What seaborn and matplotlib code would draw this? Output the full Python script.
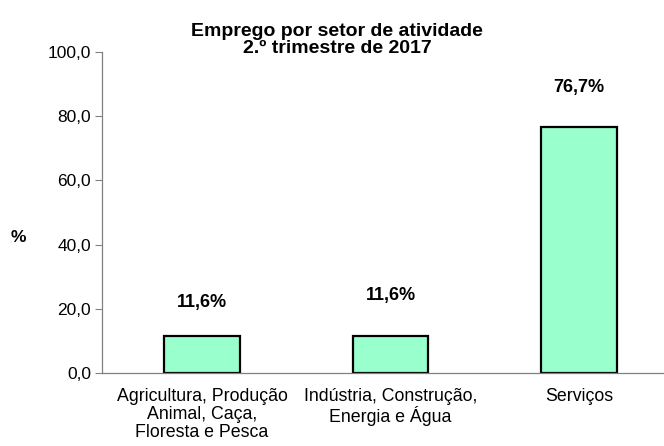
import matplotlib
matplotlib.use("Agg")
import matplotlib.pyplot as plt
import seaborn as sns
import pandas as pd
from matplotlib.ticker import FuncFormatter

# dados
setores = ["Agricultura, Produção\nAnimal, Caça,\nFloresta e Pesca",
           "Indústria, Construção,\nEnergia e Água",
           "Serviços"]
valores = [11.6, 11.6, 76.7]
rotulos = ["11,6%", "11,6%", "76,7%"]

df = pd.DataFrame({"setor": setores, "valor": valores})

sns.set_style("white")
plt.rcParams["font.family"] = ["Liberation Sans", "DejaVu Sans"]
plt.rcParams["text.color"] = "black"

fig = plt.figure(figsize=(6.64, 4.46), dpi=100)
ax = fig.add_axes([102 / 664, 1 - 373 / 446, 562 / 664, 321 / 446])

sns.barplot(data=df, x="setor", y="valor", color="#99FFCC", width=0.40,
            edgecolor="black", linewidth=1.6, saturation=1, ax=ax)

ax.set_ylim(0, 100)
ax.set_xlim(-0.53, 2.45)
ax.set_yticks([0, 20, 40, 60, 80, 100])
ax.yaxis.set_major_formatter(FuncFormatter(lambda v, p: f"{v:.1f}".replace(".", ",")))
ax.tick_params(axis="y", labelsize=12.5, length=5, width=0.8, color="#808080",
               labelcolor="black", left=True, pad=3)
ax.tick_params(axis="x", labelsize=12.8, length=0, pad=11, labelcolor="black")
for lbl in ax.get_xticklabels():
    lbl.set_linespacing(1.05)
ax.set_xlabel("")
ax.set_ylabel("%", fontsize=12.5, fontweight="bold", rotation=0, color="black")
ax.yaxis.set_label_coords(-0.148, 0.40)

for s in ["top", "right"]:
    ax.spines[s].set_visible(False)
for s in ["left", "bottom"]:
    ax.spines[s].set_color("#808080")
    ax.spines[s].set_linewidth(0.9)

# rótulos acima das barras
desloc = [10.5, 12.4, 12.1]
for i, (v, r) in enumerate(zip(valores, rotulos)):
    ax.text(i, v + desloc[i], r, ha="center", va="center",
            fontsize=13, fontweight="bold", color="black")

fig.text(337 / 664, 1 - 40 / 446,
         "Emprego por setor de atividade\n2.º trimestre de 2017",
         ha="center", va="center", fontsize=14, fontweight="bold",
         linespacing=0.95, color="black")

fig.savefig("out.png", dpi=100)
